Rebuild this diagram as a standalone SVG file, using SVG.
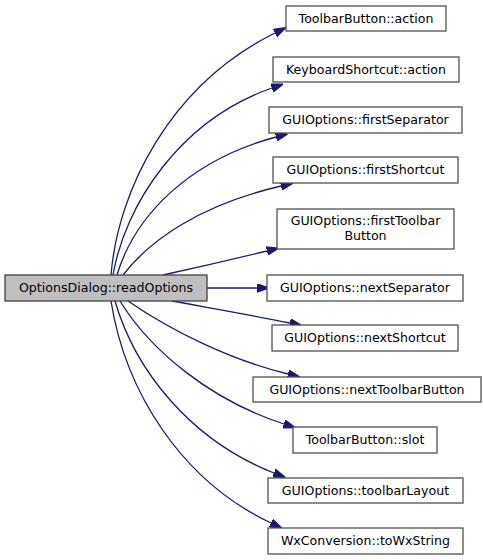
<svg xmlns="http://www.w3.org/2000/svg" width="483" height="560" viewBox="0 0 483 560">
<style>
.n rect{fill:#ffffff;stroke:#505050;stroke-width:1.3}
.m rect{fill:#bfbfbf;stroke:#404040;stroke-width:1.3}
text{font-family:"DejaVu Sans",sans-serif;font-size:12.6px;fill:#000000;text-anchor:middle}
.e path{fill:none;stroke:#191970;stroke-width:1.3}
</style>
<defs>
<marker id="ah" markerUnits="userSpaceOnUse" markerWidth="12" markerHeight="9" refX="0" refY="3.5" orient="auto" viewBox="0 0 10 7">
<path d="M0,0 L10,3.5 L0,7 Z" fill="#191970" stroke="#191970"/>
</marker>
</defs>
<rect width="483" height="560" fill="#ffffff"/>
<g id="connectors" class="e">
<path marker-end="url(#ah)" d="M111,275 C118,190 170,85 275,33"/>
<path marker-end="url(#ah)" d="M113,275 C125,205 180,120 272,88"/>
<path marker-end="url(#ah)" d="M117,275 C135,215 190,160 276,137"/>
<path marker-end="url(#ah)" d="M123,275 C150,240 200,205 281,186"/>
<path marker-end="url(#ah)" d="M163,275 C195,268 230,260 267,251"/>
<path marker-end="url(#ah)" d="M207,288 L257,288"/>
<path marker-end="url(#ah)" d="M172,301 C210,308 250,315 290,323"/>
<path marker-end="url(#ah)" d="M128,301 C170,330 230,360 288,374"/>
<path marker-end="url(#ah)" d="M120,301 C150,350 210,400 284,424"/>
<path marker-end="url(#ah)" d="M115,301 C135,370 190,440 274,473"/>
<path marker-end="url(#ah)" d="M111,301 C125,390 180,480 271,523"/>
</g>
<g id="node-main" class="m"><rect x="5" y="275" width="202" height="26"/><text x="106" y="292">OptionsDialog::readOptions</text></g>
<g id="node-tb-action" class="n"><rect x="286" y="6" width="160" height="25"/><text x="366" y="22.5">ToolbarButton::action</text></g>
<g id="node-ks-action" class="n"><rect x="273" y="57" width="186" height="25"/><text x="366" y="73.5">KeyboardShortcut::action</text></g>
<g id="node-firstSeparator" class="n"><rect x="269" y="107" width="193" height="26"/><text x="365.5" y="124">GUIOptions::firstSeparator</text></g>
<g id="node-firstShortcut" class="n"><rect x="273" y="157" width="185" height="26"/><text x="365.5" y="174">GUIOptions::firstShortcut</text></g>
<g id="node-firstToolbarButton" class="n"><rect x="277" y="209" width="177" height="40"/><text x="365.5" y="225">GUIOptions::firstToolbar</text><text x="365.5" y="240">Button</text></g>
<g id="node-nextSeparator" class="n"><rect x="267" y="275" width="196" height="26"/><text x="365" y="292">GUIOptions::nextSeparator</text></g>
<g id="node-nextShortcut" class="n"><rect x="272" y="325" width="186" height="26"/><text x="365" y="342">GUIOptions::nextShortcut</text></g>
<g id="node-nextToolbarButton" class="n"><rect x="253" y="377" width="228" height="25"/><text x="367" y="393.5">GUIOptions::nextToolbarButton</text></g>
<g id="node-slot" class="n"><rect x="293" y="427" width="144" height="26"/><text x="365" y="444">ToolbarButton::slot</text></g>
<g id="node-toolbarLayout" class="n"><rect x="268" y="478" width="195" height="25"/><text x="365.5" y="494.5">GUIOptions::toolbarLayout</text></g>
<g id="node-toWxString" class="n"><rect x="268" y="528" width="195" height="26"/><text x="365.5" y="545">WxConversion::toWxString</text></g>
</svg>
